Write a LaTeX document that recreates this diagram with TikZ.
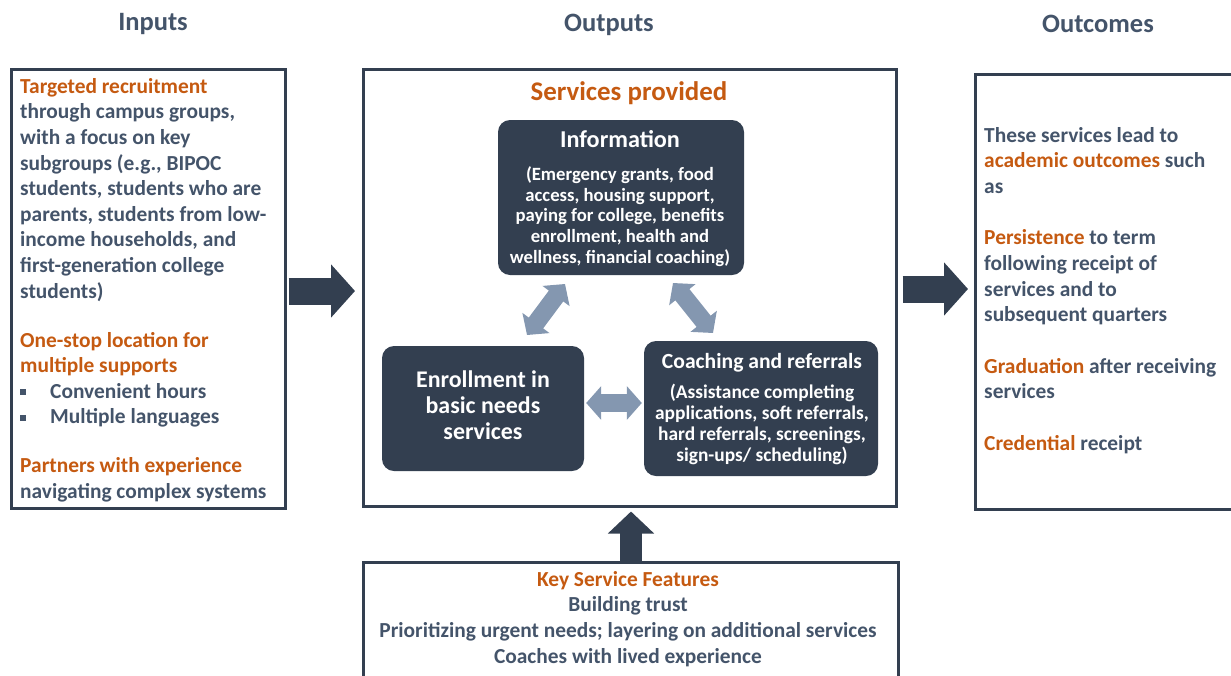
\documentclass[tikz,border=0pt]{standalone}
\usepackage{fontspec}
\setmainfont{Carlito}
\usetikzlibrary{arrows.meta,positioning}
\definecolor{navy}{HTML}{333F50}
\definecolor{slate}{HTML}{44546A}
\definecolor{rust}{HTML}{C55A11}
\definecolor{steel}{HTML}{8497B0}
\newcommand{\hl}[1]{\textcolor{rust}{#1}}
\newcommand{\sqbullet}{\makebox[30pt][l]{\rule[3pt]{6pt}{6pt}}}

\begin{document}
\begin{tikzpicture}[x=1pt,y=-1pt,
    panel/.style={draw=navy, line width=2.5pt, anchor=north west, inner sep=0pt},
    darkbox/.style={fill=navy, rounded corners=12pt, inner sep=0pt},
    header/.style={font=\bfseries\fontsize{26.5}{31}\selectfont, text=slate, inner sep=0pt},
    body/.style={font=\bfseries\fontsize{21.4}{25.6}\selectfont, text=slate, align=left, inner sep=0pt, anchor=base west},
    boxtitle/.style={font=\bfseries\fontsize{24.2}{28}\selectfont, text=white, align=center, inner sep=0pt, anchor=base},
    boxsmall/.style={font=\bfseries\fontsize{18.7}{20.6}\selectfont, text=white, align=center, inner sep=0pt, anchor=base},
    bigarrow/.style={navy, line width=27pt, -{Triangle[length=24pt,width=52pt]}},
    linkarrow/.style={steel, line width=18pt, {Triangle[length=15pt,width=33pt]}-{Triangle[length=15pt,width=33pt]}}]

    \clip (0,0) rectangle (1231,675);

    % column headers
    \node[header] (hin) at (153,24) {Inputs};
    \node[header] (hout) at (609,25) {Outputs};
    \node[header] (hres) at (1098,24) {Outcomes};

    % frames
    \node[panel, minimum width=274pt, minimum height=439pt] (inbox) at (10,68) {};
    \node[panel, minimum width=533pt, minimum height=437pt] (outbox) at (362,68) {};
    \node[panel, minimum width=280pt, minimum height=435pt] (resbox) at (974,73) {};
    \node[panel, minimum width=535pt, minimum height=130pt] (featbox) at (362,561) {};

    % inputs (anchored at the last line)
    \node[body] (intext) at (20,498.5) {\hl{Targeted recruitment}\\
        through campus groups,\\
        with a focus on key\\
        subgroups (e.g., BIPOC\\
        students, students who are\\
        parents, students from low-\\
        income households, and\\
        first-generation college\\
        students)\\[23.4pt]
        \hl{One-stop location for}\\
        \hl{multiple supports}\\
        \sqbullet Convenient hours\\
        \sqbullet Multiple languages\\[23.4pt]
        \hl{Partners with experience}\\
        navigating complex systems};

    % outputs
    \node[font=\bfseries\fontsize{26.9}{31}\selectfont, text=rust, inner sep=0pt, anchor=base] (svc) at (629,100) {Services provided};

    \node[darkbox, minimum width=246pt, minimum height=155pt] (info) at (621,197.5) {};
    \node[boxtitle] (infotitle) at (620,147.5) {Information};
    \node[boxsmall] (infotext) at (620,263) {(Emergency grants, food\\
        access, housing support,\\
        paying for college, benefits\\
        enrollment, health and\\
        wellness, financial coaching)};

    \node[darkbox, minimum width=202pt, minimum height=125pt] (enroll) at (483,408.5) {};
    \node[font=\bfseries\fontsize{23.9}{26}\selectfont, text=white, align=center, inner sep=0pt, anchor=base] (enrolltext) at (483,439) {Enrollment in\\
        basic needs\\
        services};

    \node[darkbox, minimum width=234pt, minimum height=135pt] (coach) at (761,408.5) {};
    \node[font=\bfseries\fontsize{21.6}{24}\selectfont, text=white, inner sep=0pt, anchor=base] (coachtitle) at (762,368) {Coaching and referrals};
    \node[boxsmall, font=\bfseries\fontsize{19.4}{21}\selectfont] (coachtext) at (762,461) {(Assistance completing\\
        applications, soft referrals,\\
        hard referrals, screenings,\\
        sign-ups/ scheduling)};

    \coordinate (ie1) at (527,335);
    \coordinate (ie2) at (565,284);
    \coordinate (ic1) at (673,283);
    \coordinate (ic2) at (713,333);

    \draw[linkarrow] (ie1) -- (ie2);
    \draw[linkarrow] (ic1) -- (ic2);
    \draw[linkarrow] ([xshift=2pt]enroll.east |- 0,403) -- ([xshift=-2pt]coach.west |- 0,403);

    % outcomes
    \node[body] (restext) at (984,450.5) {These services lead to\\
        \hl{academic outcomes} such\\
        as\\[26pt]
        \hl{Persistence} to term\\
        following receipt of\\
        services and to\\
        subsequent quarters\\[26pt]
        \hl{Graduation} after receiving\\
        services\\[26pt]
        \hl{Credential} receipt};

    % key features
    \node[font=\bfseries\fontsize{21.4}{25.6}\selectfont, text=slate, align=center, inner sep=0pt, anchor=base] (feattext) at (628,663) {\hl{Key Service Features}\\
        Building trust\\
        Prioritizing urgent needs; layering on additional services\\
        Coaches with lived experience};

    % flow arrows
    \draw[bigarrow] ([xshift=2pt]inbox.east |- 0,291) -- ([xshift=-7pt]outbox.west |- 0,291);
    \draw[bigarrow] ([xshift=5pt]outbox.east |- 0,289) -- ([xshift=-6pt]resbox.west |- 0,289);
    \draw[bigarrow, line width=22pt, -{Triangle[length=22pt,width=45pt]}] ([yshift=-2pt]featbox.north -| 631,0) -- ([yshift=-4pt]outbox.south -| 631,0);
\end{tikzpicture}
\end{document}
